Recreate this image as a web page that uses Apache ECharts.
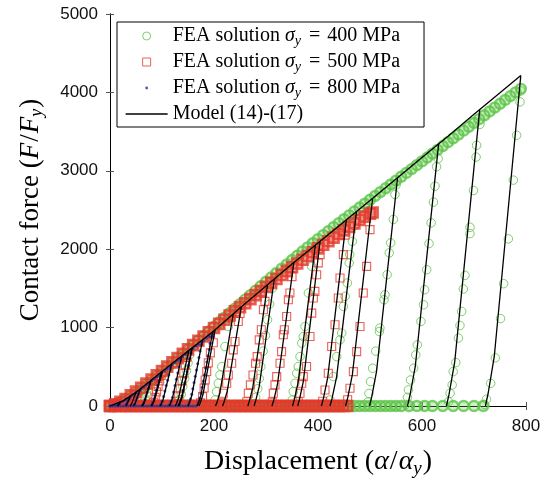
<!DOCTYPE html>
<html><head><meta charset="utf-8">
<script src="https://cdn.jsdelivr.net/npm/echarts@6/dist/echarts.min.js"></script>
<style>html,body{margin:0;padding:0;background:#fff}#c{width:541px;height:478px}</style>
</head><body><div id="c"></div>
<script>
// ---------- tick / legend text ----------
const xTickValues = [0, 200, 400, 600, 800];
const yTickValues = [0, 1000, 2000, 3000, 4000, 5000];
const legendStress = ['400', '500', '800'];

// ---------- FEA sigma_y = 400 MPa (green circles) ----------
const greenEnvX = [0,10,20,30,40,50,60,70,80,90,100,110,120,130,140,150,160,170,180,190,200,210,220,230,240,250,260,270,280,290,300,310,320,330,340,350,360,370,380,390,400,410,420,430,440,450,460,470,480,490,500,510,520,530,540,550,560,570,580,590,600,610,620,630,640,650,660,670,680,690,700,710,720,730,740,750,760,770,780,790];
const greenEnvY = [0,18,45,80,122,168,216,267,320,374,430,486,543,600,657,715,773,831,890,950,1010,1068,1126,1184,1242,1300,1357,1414,1471,1528,1585,1641,1697,1752,1807,1862,1916,1970,2023,2076,2128,2180,2231,2282,2332,2382,2432,2482,2531,2580,2630,2679,2728,2777,2826,2875,2924,2973,3022,3071,3120,3169,3218,3267,3316,3365,3414,3463,3512,3561,3610,3659,3708,3757,3806,3855,3904,3953,4000,4045];
const greenBaseX = [0,10,20,30,40,50,60,70,80,90,100,110,120,130,140,150,160,170,180,190,200,210,220,230,240,250,260,270,280,290,300,310,320,330,340,350,360,370,380,390,400,410,420,430,440,450,460,470,480,490,500,510,520,530,540,550,560,575,590,605,620,640,660,680,700,718];
const greenUnloads = [
  [[76,280],[73,220],[70,160],[67,100],[64.5,50],[62,15]],
  [[153,650],[150,550],[147,450],[143.5,350],[140,250],[137,150],[134,80],[131,20]],
  [[233,1120],[227.5,1014],[221,758],[215,502],[211.5,396],[208.3,290],[205,183],[202,77]],
  [[312,1500],[307,1300],[303,1100],[299,900],[294.5,700],[290,500],[287,350],[284,220],[280,110],[277,30]],
  [[393,2000],[388,1781],[381.5,1441],[375,1014],[371.7,886],[368.7,802],[365.4,630],[362,502],[359,418],[355.8,290],[352.5,183],[350.6,77]],
  [[470,2300],[466,2100],[461,1931],[460,1825],[456.4,1569],[452,1398],[448.7,1270],[445.6,930],[442.3,844],[436,630],[429.5,375],[423,77]],
  [[550,2820],[548,2698],[544.8,2379],[539.8,2081],[537,1953],[533,1675],[528.8,1419],[527,1355],[519,994],[518,950],[511,700],[505,482],[501,311],[498,160],[496,50]],
  [[631,3155],[628,3052],[625,2804],[622,2600],[617.5,2336],[613.5,2072],[609,1739],[605,1483],[603,1292],[598,1078],[591,780],[588,652],[584,482],[578,332],[574,205],[572,111],[569,20]],
  [[711.5,3593],[705,3325],[704,3175],[699,2749],[692.3,2279],[692.3,2199],[682.7,1666],[679.5,1492],[676.3,1206],[673,1027],[670,866],[665,554],[660,439],[658,269],[654,162],[651,55]],
  [[790,4019],[788.5,3879],[782,3453],[775.6,2881],[766,2132],[757,1560],[751,1115],[741,614],[732,290],[724,86],[720,20]]
];

// ---------- FEA sigma_y = 500 MPa (red squares) ----------
const redEnvX = [0,10,20,30,40,50,60,70,80,90,100,110,120,130,140,150,160,170,180,190,200,210,220,230,240,250,260,270,280,290,300,310,320,330,340,350,360,370,380,390,400,410,420,430,440,450,460,470,480,490,500,505];
const redEnvY = [0,22,52,90,135,183,233,285,338,392,447,502,557,612,667,722,777,832,887,941,995,1048,1101,1154,1207,1259,1311,1363,1414,1465,1520,1570,1620,1670,1720,1770,1818,1866,1914,1962,2010,2056,2102,2148,2194,2240,2285,2330,2374,2416,2452,2468];
const redBaseX = [0,8,16,24,32,40,48,56,64,72,80,88,96,104,112,120,128,136,144,152,160,168,176,184,192,200,208,216,224,232,240,248,256,264,272,280,288,296,304,312,320,328,336,344,352,360,368,376,384,392,400,408,416,424,432,440,448,456];
const redUnloads = [
  [[48.5,150],[46,110],[44,70],[41.5,30],[39,5]],
  [[98.5,390],[95.5,320],[92.5,250],[89.5,180],[87,110],[84,50],[81.5,15]],
  [[148,620],[145,520],[142,420],[138.5,320],[135,220],[132,130],[129,60],[126.5,15]],
  [[198.7,806],[193,678],[189,550],[186,440],[183,332],[181,230],[178,120],[174,40]],
  [[250,1180],[246.7,1078],[240.4,822],[237,716],[234,546],[227.5,396],[224.4,290],[218,162],[216.5,40]],
  [[298,1334],[295,1228],[291,972],[287,844],[283,630],[280,546],[275,396],[270,269],[266,162],[263,55]],
  [[350,1650],[346,1441],[343,1355],[339.8,1142],[335.2,972],[333.3,908],[330,694],[327,546],[320.6,375],[317.3,269],[314,162],[312,50]],
  [[404,1931],[400.6,1825],[397.4,1675],[394,1462],[391,1377],[388,1185],[384.6,886],[378,503],[371.7,375],[368.7,290],[365.4,162],[362,55]],
  [[452,2180],[448.7,1931],[442.3,1633],[439,1377],[432.7,1036],[426.3,758],[419.8,418],[413.5,205],[409,60]],
  [[500,2250],[493.6,1781],[487,1441],[480.8,1014],[474.4,694],[468,439],[461.5,226],[457,80]]
];

// ---------- FEA sigma_y = 800 MPa (blue dots) ----------
const blueEnvX = [0,5,10,15,20,25,30,35,40,45,50,55,60,65,70,75,80,85,90,95,100,105,110,115,120,125,130,135,140,145,150,155,160,165,170,175,180,185,190,195,198];
const blueEnvY = [0,8,18,30,45,62,80,100,122,145,168,192,217,242,268,294,320,346,372,398,424,450,476,502,528,554,580,606,632,658,684,710,736,762,788,814,840,865,890,915,930];
const blueBaseX = [0,5,10,15,20,25,30,35,40,45,50,55,60,65,70,75,80,85,90,95,100,105,110,115,120,125,130,135,140,145,150,155,160,165];
const blueUnloads = [
  [[18.5,40],[17.3,28],[16.2,16],[15,5]],
  [[37.5,100],[35.5,75],[33.8,50],[32,25],[30.2,8]],
  [[56.5,190],[54.3,150],[52.1,110],[49.9,70],[47.6,30],[45.8,10]],
  [[76.2,280],[74,230],[71.7,180],[69.4,130],[67.4,85],[65,40],[62.9,12]],
  [[96.3,380],[94,320],[91.4,260],[89,200],[86.5,140],[84.5,90],[82.1,45],[80,15]],
  [[115.8,470],[113.2,400],[110.7,330],[108.1,260],[105.5,190],[103,120],[100.3,60],[98.1,25],[96.6,6]],
  [[135.5,580],[133,500],[130.3,420],[127.6,340],[125,260],[122.3,180],[120,110],[117.4,60],[115.3,25],[114,6]],
  [[155.6,680],[153.1,600],[150.7,520],[148.2,440],[145.7,360],[143.2,280],[140.8,200],[138.6,130],[135.8,70],[133.6,30],[132.1,8]],
  [[175.6,780],[173.3,700],[171,620],[168.6,540],[166.2,460],[163.9,380],[161.6,300],[159.2,220],[157.1,150],[154.8,90],[152.3,45],[150.3,12]],
  [[195.1,880],[192.9,800],[190.7,720],[188.4,640],[186.2,560],[183.9,480],[181.7,400],[179.5,320],[177.2,240],[175,160],[172.5,100],[170,50],[168,15]]
];

// ---------- Model (14)-(17) (black lines) ----------
const modelEnvelope = [[0,0],[25,65],[50,175],[75,305],[100,440],[125,570],[150,700],[175,830],[200,960],[250,1250],[300,1530],[350,1810],[400,2080],[450,2350],[500,2620],[550,2895],[600,3170],[650,3440],[700,3720],[750,3995],[790,4215]];
const modelUnloads = [
  [[79,331],[65.5,50],[62.4,13],[61,0]],
  [[158,741],[137.8,111],[133.2,30],[131,0]],
  [[237,1175],[211.5,176],[205.7,47],[203,0]],
  [[316,1620],[286.8,243],[280.1,65],[277,0]],
  [[395,2053],[362,308],[354.5,82],[351,0]],
  [[474,2480],[435.8,372],[427.1,99],[423,0]],
  [[553,2912],[512.5,437],[503.3,116],[499,0]],
  [[632,3343],[587,501],[576.8,134],[572,0]],
  [[711,3780],[663,567],[652.1,151],[647,0]],
  [[790,4215],[739,632],[727.4,169],[722,0]],
  [[50.5,182],[41.5,27],[39.5,7],[38.5,0]],
  [[101,445],[85.3,67],[81.7,18],[80,0]],
  [[151.5,708],[132,106],[127.6,28],[125.5,0]],
  [[202,972],[178.8,146],[173.5,39],[171,0]],
  [[252.5,1264],[225.5,190],[219.4,51],[216.5,0]],
  [[303,1547],[274.5,232],[268,62],[265,0]],
  [[353.5,1829],[322,274],[314.9,73],[311.5,0]],
  [[404,2102],[371.8,315],[364.4,84],[361,0]],
  [[454.5,2374],[418.5,356],[410.3,95],[406.5,0]],
  [[505,2647],[466,397],[457.2,106],[453,0]],
  [[20,50],[15.5,8],[14.5,2],[14,0]],
  [[39.5,128],[32,19],[30.3,5],[29.5,0]],
  [[59,228],[48.5,34],[46.1,9],[45,0]],
  [[79,331],[66.3,50],[63.4,13],[62,0]],
  [[99,434],[84,65],[80.6,17],[79,0]],
  [[118.5,530],[102,80],[98.3,21],[96.5,0]],
  [[138,640],[120,96],[115.9,26],[114,0]],
  [[158,741],[138.5,111],[134.1,30],[132,0]],
  [[178,845],[157,127],[152.2,34],[150,0]],
  [[197.5,947],[175,142],[169.9,38],[167.5,0]]
];

// ---------- build ----------
const GREEN = '#5cc447', RED = '#e23a2c', BLUE = '#22309a';
const SERIF = '"Liberation Serif", "Times New Roman", serif';
const SANS = '"Liberation Sans", Arial, sans-serif';

function zip(xs, ys) { const n = Math.min(xs.length, ys.length); const o = []; for (let i = 0; i < n; i++) o.push([xs[i], ys[i]]); return o; }
function base(xs) { return xs.map(x => [x, 0]); }

const mathRich = (fs) => ({
  t: { fontFamily: SERIF, fontSize: fs, color: '#000', lineHeight: fs + 4 },
  i: { fontFamily: SERIF, fontStyle: 'italic', fontSize: fs, color: '#000', lineHeight: fs + 4 },
  il: { fontFamily: SERIF, fontStyle: 'italic', fontSize: fs, color: '#000', lineHeight: fs + 4, padding: [0, 0, 0, Math.round(fs * 0.25)] },
  sl: { fontFamily: SERIF, fontSize: fs, color: '#000', lineHeight: fs + 4, padding: [0, 1, 0, 1] },
  eq: { fontFamily: SERIF, fontSize: fs, color: '#000', lineHeight: fs + 4, padding: [0, Math.round(fs * 0.36), 0, Math.round(fs * 0.36)] },
  s: { fontFamily: SERIF, fontStyle: 'italic', fontSize: Math.round(fs * 0.68), color: '#000', lineHeight: Math.round(fs * 0.45), verticalAlign: 'bottom', padding: [0, 1, 0, 0] }
});

const lineStyleModel = { color: '#000', width: 1.3 };
const modelItemStyle = { color: '#000', borderColor: '#000', borderWidth: 1.3 };
const series = [
  { type: 'scatter', name: 'g', data: zip(greenEnvX, greenEnvY).concat(base(greenBaseX)), symbol: 'circle', symbolSize: 10,
    itemStyle: { color: 'rgba(92,196,71,0.35)', borderColor: GREEN, borderWidth: 2.4 }, silent: true },
  { type: 'scatter', name: 'g', data: [].concat(...greenUnloads), symbol: 'circle', symbolSize: 8.5,
    itemStyle: { color: 'rgba(0,0,0,0)', borderColor: GREEN, borderWidth: 1 }, silent: true },
  { type: 'scatter', name: 'r', data: zip(redEnvX, redEnvY).concat(base(redBaseX)), symbol: 'rect', symbolSize: 10,
    itemStyle: { color: 'rgba(226,58,44,0.4)', borderColor: RED, borderWidth: 2.6 }, silent: true },
  { type: 'scatter', name: 'r', data: [].concat(...redUnloads), symbol: 'rect', symbolSize: 8,
    itemStyle: { color: 'rgba(0,0,0,0)', borderColor: RED, borderWidth: 1.1 }, silent: true },
  { type: 'scatter', name: 'b', data: zip(blueEnvX, blueEnvY).concat(base(blueBaseX), ...blueUnloads), symbol: 'circle', symbolSize: 3,
    itemStyle: { color: BLUE }, silent: true },
  { type: 'line', name: 'm', data: modelEnvelope, symbol: 'none', showSymbol: false,
    lineStyle: lineStyleModel, itemStyle: modelItemStyle, silent: true }
].concat(modelUnloads.map(d => ({ type: 'line', name: 'm', data: d, symbol: 'none', showSymbol: false,
    lineStyle: lineStyleModel, itemStyle: modelItemStyle, silent: true })));

const axisCommon = {
  type: 'value',
  axisLine: { show: true, lineStyle: { color: '#000', width: 1 } },
  axisTick: { show: true, inside: true, length: 4, lineStyle: { color: '#555', width: 1 } },
  splitLine: { show: false },
  minorTick: { show: false }
};
const labelCommon = { show: true, color: '#111', fontFamily: SANS, fontSize: 17, margin: 12, hideOverlap: false,
  showMinLabel: true, showMaxLabel: true, formatter: v => String(v) };

const chart = echarts.init(document.getElementById('c'), null, { renderer: 'canvas' });
chart.setOption({
  animation: false,
  backgroundColor: '#fff',
  grid: { left: 110, top: 14, width: 416, height: 392, containLabel: false, outerBoundsMode: 'none', show: false },
  xAxis: [
    Object.assign({}, axisCommon, {
      position: 'bottom', min: xTickValues[0], max: xTickValues[xTickValues.length - 1], interval: 200,
      axisLabel: labelCommon,
      name: '{t|Displacement (}{i|α}{sl|/}{i|α}{s|y}{t|)}', nameLocation: 'middle', nameGap: 40,
      nameTextStyle: { fontFamily: SERIF, fontSize: 28, color: '#000', rich: mathRich(28) }
    }),
    Object.assign({}, axisCommon, {
      position: 'top', min: xTickValues[0], max: xTickValues[xTickValues.length - 1], interval: 200,
      axisLabel: { show: false }
    })
  ],
  yAxis: [
    Object.assign({}, axisCommon, {
      position: 'left', min: yTickValues[0], max: yTickValues[yTickValues.length - 1], interval: 1000,
      axisLabel: labelCommon,
      name: '{t|Contact force (}{i|F}{sl|/}{i|F}{s|y}{t|)}', nameLocation: 'middle', nameGap: 64, nameRotate: 90,
      nameTextStyle: { fontFamily: SERIF, fontSize: 27, color: '#000', rich: mathRich(27) }
    }),
    Object.assign({}, axisCommon, {
      position: 'right', min: yTickValues[0], max: yTickValues[yTickValues.length - 1], interval: 1000,
      axisLabel: { show: false }
    })
  ],
  legend: {
    show: true, orient: 'vertical', left: 117, top: 22,
    padding: [4, 24, 3, 8],
    itemWidth: 42, itemHeight: 8, itemGap: 4,
    backgroundColor: '#fff', borderColor: '#000', borderWidth: 1, borderRadius: 0,
    selectedMode: false,
    itemStyle: { borderWidth: 1 },
    lineStyle: { width: 1.3, color: '#000' },
    data: [
      { name: 'g', itemStyle: { color: 'rgba(0,0,0,0)', borderColor: GREEN, borderWidth: 1 } },
      { name: 'r', icon: 'path://M0,0M42,8M17,0L25,0L25,8L17,8Z', itemStyle: { color: 'rgba(0,0,0,0)', borderColor: RED, borderWidth: 1 } },
      { name: 'b', icon: 'path://M0,0M42,8M21,2.6A1.4,1.4,0,1,1,21,5.4A1.4,1.4,0,1,1,21,2.6Z', itemStyle: { color: BLUE, borderWidth: 0 } },
      { name: 'm', icon: 'path://M0,0M42,8M0,4L42,4', itemStyle: { color: 'rgba(0,0,0,0)', borderColor: '#000', borderWidth: 1.3 } }
    ],
    formatter: function (name) {
      if (name === 'm') return '{t|Model (14)-(17)}';
      const v = { g: legendStress[0], r: legendStress[1], b: legendStress[2] }[name];
      return '{t|FEA solution}{il|σ}{s|y}{eq|=}{t|' + v + ' MPa}';
    },
    textStyle: { fontFamily: SERIF, fontSize: 20, color: '#000', rich: mathRich(20) }
  },
  series: series
});
</script>
</body></html>
